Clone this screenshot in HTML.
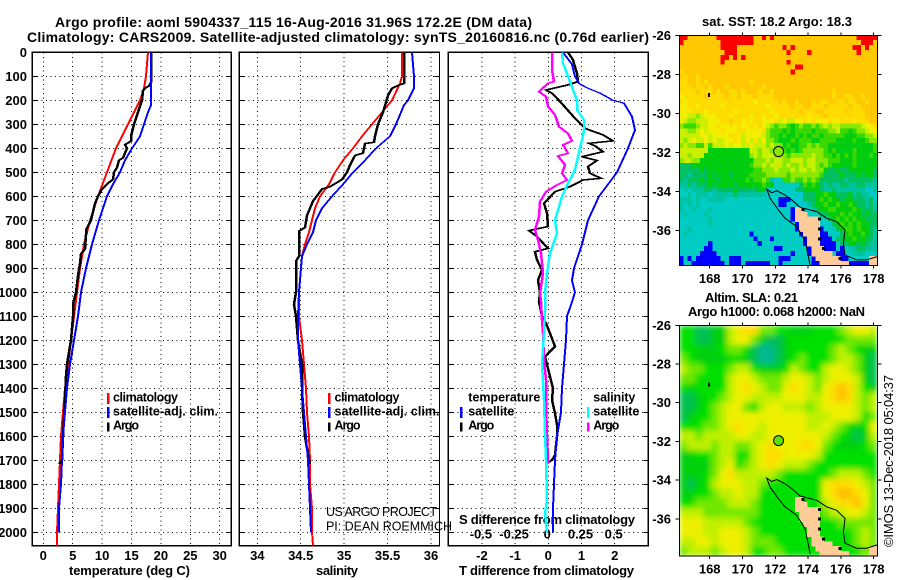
<!DOCTYPE html>
<html><head><meta charset="utf-8"><title>Argo profile</title>
<style>
html,body{margin:0;padding:0;background:#fff}
svg{display:block}
text{font-family:"Liberation Sans",sans-serif;fill:#000}
.b{font-weight:bold;font-size:13px}
.l{font-weight:bold;font-size:12.5px}
</style></head>
<body>
<svg id="chart" xmlns="http://www.w3.org/2000/svg" width="900" height="580" viewBox="0 0 900 580">
<defs>
<filter id="smooth" x="0" y="0" width="1" height="1"><feGaussianBlur stdDeviation="3" edgeMode="duplicate"/></filter>
<clipPath id="clip-sst"><rect x="679.3" y="35.3" width="198" height="230.4"/></clipPath>
<clipPath id="clip-sla"><rect x="679.3" y="325.3" width="198" height="230.7"/></clipPath>
</defs>
<text class="b" x="55" y="27" style="font-size:14px" textLength="477">Argo profile: aoml 5904337_115 16-Aug-2016 31.96S 172.2E (DM data)</text>
<text class="b" x="27" y="42" style="font-size:14px" textLength="622">Climatology: CARS2009. Satellite-adjusted climatology: synTS_20160816.nc (0.76d earlier)</text>
<text class="b" x="69" y="575" textLength="121">temperature (deg C)</text>
<text class="b" x="316" y="575" textLength="42">salinity</text>
<text class="b" x="459" y="575" textLength="175">T difference from climatology</text>
<text class="b" x="459" y="524" textLength="176">S difference from climatology</text>
<text x="326" y="516" style="font-size:12.5px" textLength="111">US ARGO PROJECT</text>
<text x="326" y="530.5" style="font-size:12.5px" textLength="126">PI: DEAN ROEMMICH</text>
<text class="b" x="702" y="26" textLength="150">sat. SST: 18.2 Argo: 18.3</text>
<text class="b" x="705" y="302" textLength="93">Altim. SLA: 0.21</text>
<text class="b" x="688" y="316" textLength="177">Argo h1000: 0.068 h2000: NaN</text>
<text transform="translate(893,547) rotate(-90)" style="font-size:13px" textLength="172">©IMOS 13-Dec-2018 05:04:37</text>
</svg>
<script>
// ---- Profile data (depth in dbar) ----
const tempClimDepth=[0,100,150,200,300,400,500,600,700,800,900,1000,1100,1200,1300,1400,1500,1600,1700,1800,1900,2000,2056];
const tempClim=[17.75,17.47,17.2,16.45,14.46,12.36,10.8,9.25,7.94,6.97,6.24,5.73,5.2,4.71,4.25,3.74,3.35,3.06,2.84,2.62,2.5,2.38,2.28];
const tempSatDepth=[0,100,220,250,300,350,400,450,500,550,600,700,800,900,1000,1100,1200,1300,1400,1500,1600,1700,1800,1900,2000];
const tempSat=[18.26,18.26,18.26,17.86,17.18,16.45,15.03,13.9,13.04,11.86,10.89,9.52,8.33,7.26,6.46,5.9,5.22,4.54,3.98,3.69,3.4,3.13,2.96,2.72,2.62];
const tempArgoDepth=[0,125,140,150,160,200,250,300,350,370,385,400,440,450,480,500,530,545,570,600,630,700,740,760,820,840,880,930,1000,1050,1100,1150,1200,1300,1350,1450,1600,1700,1715];
const tempArgo=[18.3,18.26,17.9,17.3,17.0,16.73,16.05,15.43,14.9,14.85,13.9,14.18,13.6,12.93,12.48,12.02,11.9,11.05,9.93,9.35,8.79,8.06,7.26,7.26,7.09,6.41,6.3,5.95,5.56,5.1,5.0,4.83,4.66,4.08,3.81,3.69,3.35,3.13,2.72];

const salClimDepth=[0,100,130,200,250,300,350,400,450,500,550,600,650,700,750,800,850,900,1000,1100,1200,1300,1400,1500,1600,1700,1800,1900,2000,2056];
const salClim=[35.67,35.67,35.64,35.55,35.44,35.32,35.2,35.1,34.99,34.89,34.82,34.72,34.66,34.63,34.59,34.55,34.52,34.5,34.48,34.48,34.51,34.54,34.56,34.57,34.59,34.61,34.61,34.63,34.63,34.64];
const salSatDepth=[0,50,100,150,200,220,250,300,350,400,450,500,550,600,650,700,750,800,850,900,1000,1100,1200,1300,1400,1500,1600,1700,1800,1900,2000];
const salSat=[35.78,35.79,35.81,35.81,35.74,35.69,35.66,35.6,35.53,35.37,35.24,35.1,34.99,34.86,34.74,34.68,34.64,34.57,34.52,34.5,34.48,34.47,34.47,34.49,34.52,34.54,34.56,34.58,34.6,34.61,34.62];
const salArgoDepth=[0,130,135,150,180,250,300,350,375,380,420,430,470,500,530,560,570,620,680,730,745,850,870,1000,1050,1100,1200,1300,1400,1500,1600,1700,1715];
const salArgo=[35.69,35.69,35.64,35.55,35.51,35.45,35.39,35.36,35.34,35.24,35.22,35.12,35.07,35.03,34.98,34.84,34.74,34.64,34.57,34.55,34.48,34.48,34.45,34.44,34.42,34.45,34.47,34.51,34.51,34.53,34.55,34.6,34.61];

const dTSatDepth=[0,50,100,130,150,170,200,212,268,324,400,500,600,700,800,900,950,1000,1040,1100,1200,1300,1400,1500,1600,1700,1800,1900,2000];
const dTSat=[0.45,0.7,0.8,0.93,1.2,1.56,1.96,2.28,2.51,2.61,2.41,2.06,1.54,1.2,1.03,0.78,0.72,0.8,0.72,0.57,0.53,0.47,0.42,0.37,0.27,0.2,0.16,0.13,0.13];
const dTArgoDepth=[0,32,88,122,136,157,171,205,233,275,317,344,369,379,390,414,435,451,476,504,525,532,560,581,629,671,726,743,768,817,831,865,907,949,1000,1039,1100,1129,1171,1226,1268,1351,1400,1449,1504,1553,1601,1678,1699,1712];
const dTArgo=[0.6,0.73,0.85,0.9,0.6,-0.07,0.1,0.35,0.53,0.8,1.1,1.66,1.96,1.22,1.4,1.66,1.03,1.46,1.2,1.25,1.58,1.05,0.65,0.2,-0.12,-0.05,0,-0.58,-0.35,0,-0.4,-0.35,-0.2,-0.3,-0.25,-0.28,-0.2,-0.07,0.05,0.2,-0.1,0.05,0.13,0.1,0.2,0.25,0.25,0.2,0.1,-0.05];
const dSSatDepth=[0,46,88,157,199,240,282,324,365,435,490,546,601,699,754,837,921,1000,1074,1171,1296,1449,1588,1699,1865,1921,2000];
const dSSat=[0.1,0.108,0.138,0.188,0.213,0.218,0.269,0.269,0.251,0.226,0.201,0.151,0.1,0.05,0.063,0.013,-0.013,-0.025,-0.025,-0.033,-0.045,-0.033,-0.025,-0.018,-0.013,-0.025,-0.008];
const dSArgoDepth=[0,74,122,129,164,185,226,261,310,338,369,386,421,432,469,504,532,553,581,622,685,740,782,837,921,1004,1039,1115,1171,1282,1365,1476,1712];
const dSArgo=[0.025,0.025,0.043,0,-0.07,-0.018,0,0.05,0.083,0.15,0.18,0.108,0.15,0.075,0.125,0.1,0.143,0.063,-0.018,-0.063,-0.068,-0.1,-0.075,-0.055,-0.043,-0.063,-0.055,-0.05,-0.043,-0.033,-0.018,-0.018,0];

// ---- Tick labels ----
const depthTicks=[0,100,200,300,400,500,600,700,800,900,1000,1100,1200,1300,1400,1500,1600,1700,1800,1900,2000];
const tempTicks=[0,5,10,15,20,25,30];
const salTicks=[34,34.5,35,35.5,36];
const salTickLabels=['34','34.5','35','35.5','36'];
const dTTicks=[-2,-1,0,1,2];
const dSTicks=[-0.5,-0.25,0,0.25,0.5];
const lonTicks=[168,170,172,174,176,178];
const latTicks=[-26,-28,-30,-32,-34,-36];

// ---- Map data: SST colour class per 0.25 degree cell (rows north to south) ----
const sstRows=[
"RRaaaaaaaRRRRRRRRRaaRaRaaaaaaaaaaaaaaaaaaaaRRRRR",
"RaaaaaaaaaRRRRRRRRaaaaaaaaaaaaaaaaaaaaaaaaaaRRRa",
"aaaaaaaaaaRRRRaaaaaaaaaaaRaRaaaaaaaaaaaaaaRRaRaa",
"aaaaaaaaaaaRRRaaaaaaaaaaaaRaaaaRaaaaaaaaaaaRaaaa",
"aaaaaaaaaaRRaRaRaaaaaaaaaaaaaaaaaaaaaaaaaaaaaaaa",
"aaaaaaaaaaRaaaaaaaaaaaaaaaRaaaaaaaaaaaaaaaaaaaaa",
"aaaaaaaaaaaaaaaaaaaaaaaaaaaaRRaaaaaaaaaaaaaaaaaa",
"baaaaaaaaaaaaaaaaaaaaaaaaaaRaaaaaaaaaaaaaaaaaaaa",
"abaabaaaaaaaaaaaaaaaaaaaaaaaaaaaaaaaaaaaaaaaaaaa",
"bbaababaaaaaaaaaabaaaaaaaaaaaaaaaaaaaaaaaaaaaaaa",
"bbbabbabaaabaaaaaaaabaaaaaaaaaaaaaaaaaaaaaaaaaaa",
"bbbbabbbabaabbabaaabaabaaaaaaaaaaaaaabaaaaaaaaaa",
"cbbbbbabbbbabbabbbabbbbaaaaaaaaaaaaaabaabbaabaaa",
"bcbbbbbbbbbbbbbbbbcbbbbbabaabaaababbaabbabbaabaa",
"ccbbcbbbbbcbbbbbbbbbbcbbbbbabbaabbbabbbbbabbaaaa",
"cccbbbcbbbbbbcbbbbbbbbcbbbbbbabbbaabbbbbabbbbaaa",
"ccddedcccbbbcbbbbcbbcbbcbbbbbbbcbbbabbbbbbbbbaaa",
"cdeedddcccbbabbcbcbbcccbdcddccbcbcccbccbbbcbbbaa",
"efffe ddcc bccbcbccbcbc defeefgfeffefede dd eeeee dccb",
"ddeed cdcc cbcccbbccccb efffgfgffffgfffe ed ffgfe edcc",
"ddddd ccdc cccbbcdccccd effgfggfgfgffgff ff fgggf feed",
"dedcd dcdc ddccbcdcdcdc eefgggfgfffggfff fg gggfg gfee",
"edeef fdfd ddcdccddcddd edeegfggffefeffg gg ggggg gggf",
"ddddd ddgg ggggggggdded deeefgfgfeeeeefg fg gggfg gggf",
"ddedd dggg ggggggggeded ddeeefeeeeedeeff gf gfgfg ggfg",
"eddee gggg gggggggggeee deddeedddeddeeef ff gggfg gggg",
"hhhgg gggg ggggggggfeed edddedeededdefef gg gggfg gggg",
"hhhhh ghgg gggggggggffe eedeeededdedeegh hg hhggg gggh",
"hhihh hhgh ggghggggffff eeeeefeeeeeeefhh hh ghhhg hggh",
"hihhh ghgg hggggggfgffe fijjffeffefefhhh hh hihhh hhhi",
"iihih hhgh gggghggggggf ggjjjjjjhfgfghih ii hhiih hiii",
"jijii ihhi hhhhghhhhhgg jjjjjjjhhgggghii hi iiiii ijji",
"jjiji iiji iiiihiiiiiii jjjjjkjkkhhhggfg gh hhgih iijj",
"iiiji jjii iijjjjjjjjjj jjjBBBkkjhhhgfgf gg hgghh hihj",
"ijiji jjjj jjjjjjjjjjjj jjjBBkkkkjihggfg gf ggfgh hihi",
"ijjij jjij jjjjjjjjjjjj jjjjjjBLLjjihggf fg gggfg hhhi",
"jijjj jijj jjjjjjjjjjjj jjjjjjBLLLjjjhhg gg fgfgg hghh",
"jjjjj jjij jjjjjjjjjjjj jjjjjjBLLLLLLjjh gf gfgfg ghhh",
"jjjjj jjij jjjjjjjjjjjj jjjjjjjBLLLLLjjj hg fgfgf gghh",
"jjijj jjjj jjjjjjjjjjjj jjjjjjjBLLLLLBjj jh gffgf gghi",
"jijjj jjjj jjjjjjjjBjjj jjjjjjjjBLLLLBBj jj hgfgg fghi",
"jjjjj jjjj jjjjjjjjjBjj jBjjjjjjjBLLLBBB jh hggfg ghhi",
"jjjjj jjBj jjjjjjjjjjBj jjjjjjjjjBLLLBBB Bj hhggh ghii",
"jjjjj jBBj jjjjjjjjjjjj jjBBjjjjjjBLLLBB Bj Bjiih hiii",
"jjjjj BBBB jjjjjjjjjjjj jjjjjjBjjjBLLLLL jB Bjjii ijjj",
"BjBjB BBBB BjjBBBjjjjjj jjjBBBjjjjjBLLLL LL BBjjj jjLL",
"BjjBB BBBB BBjBBBjBBBBB BjjBjjjjjjjBBLLL LL LLBBB BBLL"
];
const sstClasses={R:'#ff0000',a:'#ffc800',b:'#ffdc00',c:'#f4ee00',d:'#c8f000',e:'#88e800',f:'#38d800',g:'#00cc10',h:'#00c060',i:'#00c4a0',j:'#00ccc4',k:'#00ccd0',B:'#0000ff',L:'#ffcc99'};

// ---- Map data: altimetry SLA level per 0.5 degree cell (rows north to south) ----
const slaRows=[
"3311225677 4433 2223 3345665",
"3311225664 2112 3333 3334444",
"3322234431 0012 3333 3454322",
"4322223321 0012 3433 3455421",
"5443334553 2223 5433 5665421",
"4433335665 4445 6654 5666521",
"3233335676 5446 7654 6787532",
"1123345665 5556 6655 6787545",
"1123456643 5665 5545 6666545",
"1233456666 6666 6655 5666534",
"3334456766 5666 6655 6543236",
"5545555665 5666 6666 5432125",
"4555455445 6766 6776 4322234",
"2233455335 6776 6665 3333333",
"2222456345 6765 5543 3333333",
"2223467555 5543 3333 3455543",
"2123566655 4333 3333 6777654",
"2233455655 3333 3333 6788764",
"3344445554 3333 3333 5677864",
"5554444444 3333 3333 4556654",
"6665555543 3333 3333 3344444",
"6665566654 3333 3333 3333454",
"5566566654 4433 3333 3333454",
"4555456653 3443 3333 3333344"
];
const slaLevels=['#00b890','#00c050','#00d010','#00e000','#70e800','#c0f000','#eef000','#ffdc00','#ffc000'];

// ---- Coast contours (lon, lat) ----
const coastLon=[174.12,174.02,173.81,173.3,172.59,172.19,171.68,171.48,171.78,172.09,172.59,173.0,173.51,174.52,175.13,175.74,176.25,176.15,176.25,176.96,177.57,178.22];
const coastLat=[-37.81,-37.35,-36.5,-35.81,-35.38,-34.96,-34.36,-33.9,-34.07,-33.97,-34.19,-34.44,-34.82,-35.04,-35.38,-35.56,-35.98,-36.67,-37.26,-37.52,-37.52,-37.35];
const floatLon=172.2, floatLat=-31.96;

// ---- Axis functions ----
const svg=document.getElementById('chart');
const NS='http://www.w3.org/2000/svg';
const yD=d=>52.3+d*0.24;
const xT=v=>43.3+v*5.88;
const xS=v=>257.3+(v-34)*86.85;
const xD=v=>548.3+v*33.2;
const xDS=v=>xD(v*4);
const xLon=v=>709.7+(v-168)*16.4;
const ySst=v=>35.3+(-26-v)*19.5;
const ySla=v=>325.3+(-26-v)*19.35;

function mk(tag,attrs,parent){
  const e=document.createElementNS(NS,tag);
  for(const k in attrs){e.setAttribute(k,attrs[k]);}
  (parent||svg).appendChild(e);
  return e;
}
function label(str,x,y,anchor,parent,cls){
  const e=mk('text',{x:x,y:y,'text-anchor':anchor,'class':cls||'b'},parent);
  e.textContent=str;
  return e;
}

// ---- Profile panels ----
const panels=[
 {id:'temperature',x0:32.3,x1:231.3,xs:xT,ticks:tempTicks},
 {id:'salinity',x0:239.3,x1:439.5,xs:xS,ticks:salTicks},
 {id:'difference',x0:448.3,x1:648.3,xs:xD,ticks:dTTicks}
];
const bottom=545.7;
panels.forEach(p=>{
  const g=mk('g',{'shape-rendering':'crispEdges'});
  
  
  depthTicks.forEach(d=>{
    const l=mk('line',{x1:p.x0,x2:p.x1,y1:yD(d),y2:yD(d),stroke:'#000','stroke-width':1,'stroke-dasharray':'1 3.5'},g);
    
    
    mk('line',{x1:p.x0,x2:p.x0+5,y1:yD(d),y2:yD(d),stroke:'#000'},g);
    mk('line',{x1:p.x1-5,x2:p.x1,y1:yD(d),y2:yD(d),stroke:'#000'},g);
  });
  p.ticks.forEach(t=>{
    const l=mk('line',{x1:p.xs(t),x2:p.xs(t),y1:52.3,y2:bottom,stroke:'#000','stroke-width':1,'stroke-dasharray':'1 3.5'},g);
    
    
  });
  const f=mk('rect',{x:p.x0,y:52.3,width:p.x1-p.x0,height:bottom-52.3,fill:'none',stroke:'#000','stroke-width':1.2},g);
  
  
});

depthTicks.forEach(d=>{
  const e=label(String(d),27,yD(d)+4.5,'end');
  
  
});
tempTicks.forEach(t=>{
  const e=label(String(t),xT(t),560,'middle');
  
  
});
salTicks.forEach((t,i)=>{
  const e=label(salTickLabels[i],xS(t),560,'middle');
  
  
});
dTTicks.forEach(t=>{
  const e=label(String(t),xD(t),560,'middle');
  
  
});
dSTicks.forEach(t=>{
  const e=label(String(t),xDS(t)-1,538.7,'middle');
  
  
});

// The original pen is wider than it is tall: two strokes 1 px apart reproduce that.
function profile(depths,vals,xf,color,w){
  const g=mk('g',{'shape-rendering':'crispEdges'});
  [-0.5,0.5].forEach(dx=>{
    const pts=depths.map((d,i)=>(Math.round(xf(vals[i]))+dx).toFixed(1)+','+yD(d).toFixed(1)).join(' ');
    mk('polyline',{points:pts,fill:'none',stroke:color,'stroke-width':w},g);
  });
  return g;
}
let s;
s=profile(tempClimDepth,tempClim,xT,'#ff0000',1);


s=profile(tempArgoDepth,tempArgo,xT,'#000000',1.5);


s=profile(tempSatDepth,tempSat,xT,'#0000ff',1);


s=profile(salClimDepth,salClim,xS,'#ff0000',1);


s=profile(salArgoDepth,salArgo,xS,'#000000',1.5);


s=profile(salSatDepth,salSat,xS,'#0000ff',1);


s=profile(dTArgoDepth,dTArgo,xD,'#000000',1.5);


s=profile(dTSatDepth,dTSat,xD,'#0000ff',1);


s=profile(dSArgoDepth,dSArgo,xDS,'#ff00ff',1.5);


s=profile(dSSatDepth,dSSat,xDS,'#00ffff',1.5);



// ---- Legends ----
const legendItems=[
 [108,113,'climatology','#ff0000',401.7,393,404,65],
 [108,113,'satellite-adj. clim.','#0000ff',415.7,407,418,105],
 [108,113,'Argo','#000000',429.7,422.5,431.5,26],
 [329,334.5,'climatology','#ff0000',401.7,393,404,65],
 [329,334.5,'satellite-adj. clim.','#0000ff',415.7,407,418,105],
 [329,334.5,'Argo','#000000',429.7,422.5,431.5,26],
 [461,468.3,'satellite','#0000ff',415.7,407,418,46],
 [461,468.3,'Argo','#000000',429.7,422.5,431.5,26],
 [588,593.3,'satellite','#00ffff',415.7,407,418,46],
 [588,593.3,'Argo','#ff00ff',429.7,422.5,431.5,26]
];
legendItems.forEach(it=>{
  const b=mk('rect',{x:it[0]-1,y:it[5],width:2.4,height:it[6]-it[5],fill:it[3],'shape-rendering':'crispEdges'});
  
  
  const t=label(it[2],it[1],it[4],'start',svg,'l');
  t.setAttribute('textLength',it[7]);
  
  
});
const lh1=label('temperature',468.3,401.7,'start',svg,'l');
lh1.setAttribute('textLength',72);


const lh2=label('salinity',593.3,401.7,'start',svg,'l');
lh2.setAttribute('textLength',42);



// ---- Maps ----
const mapX0=679.3,mapW=198;
const clean=sstRows.map(r=>r.replace(/ /g,''));
const sstCols=48;

function drawAxes(yf,top,bot,nameBase){
  const g=mk('g',{'shape-rendering':'crispEdges'});
  
  
  mk('rect',{x:mapX0,y:top,width:mapW,height:bot-top,fill:'none',stroke:'#000','stroke-width':1},g);
  lonTicks.forEach(l=>{
    const x=xLon(l);
    mk('line',{x1:x,x2:x,y1:top-3,y2:top,stroke:'#000'},g);
    mk('line',{x1:x,x2:x,y1:bot,y2:bot+3,stroke:'#000'},g);
    const t=label(String(l),x,bot+17.5,'middle');
    
    
  });
  latTicks.forEach(l=>{
    const y=yf(l);
    mk('line',{x1:mapX0-4,x2:mapX0,y1:y,y2:y,stroke:'#000'},g);
    mk('line',{x1:mapX0+mapW,x2:mapX0+mapW+4,y1:y,y2:y,stroke:'#000'},g);
    const t=label(String(l),671,y+4.5,'end');
    
    
  });
}
function drawLand(parent,top,h){
  const ch=h/clean.length, cw=mapW/sstCols;
  clean.forEach((row,r)=>{
    for(let c=0;c<row.length;c++){
      if(row[c]!=='L')continue;
      mk('rect',{x:mapX0+c*cw,y:top+r*ch,width:cw+0.4,height:ch+0.4,fill:sstClasses.L},parent);
    }
  });
  clean.forEach((row,r)=>{
    for(let c=0;c<row.length;c++){
      if(row[c]==='L'&&row[c+1]!=='L'&&c<47&&r<46&&r%2===1){
        mk('rect',{x:mapX0+(c+1)*cw-1.5,y:top+r*ch+1,width:3,height:3,fill:'#000'},parent);
      }
    }
  });
}
function drawOverlays(parent,yf,fillColor,nameBase){
  const pts=coastLon.map((l,i)=>xLon(l).toFixed(1)+','+yf(coastLat[i]).toFixed(1)).join(' ');
  const c=mk('polyline',{points:pts,fill:'none',stroke:'#000','stroke-width':1},parent);
  
  
  const n=mk('rect',{x:xLon(167.96)-1,y:yf(-29.06)-2,width:2,height:4,fill:'#000'},parent);
  
  
  const f=mk('circle',{cx:xLon(floatLon),cy:yf(floatLat),r:5,fill:fillColor,stroke:'#000','stroke-width':1},parent);
  
  
}

// SST map
const sstG=mk('g',{'clip-path':'url(#clip-sst)','shape-rendering':'crispEdges'});


const sstH=230.4, sstCH=sstH/clean.length, sstCW=mapW/sstCols;
clean.forEach((row,r)=>{
  for(let c=0;c<sstCols;c++){
    const k=row[c]||row[row.length-1];
    const cell=mk('rect',{x:mapX0+c*sstCW,y:35.3+r*sstCH,width:sstCW+0.4,height:sstCH+0.4,fill:sstClasses[k]},sstG);
    
    
  }
});
const sstL=mk('g',{'clip-path':'url(#clip-sst)','shape-rendering':'crispEdges'});


drawLand(sstL,35.3,sstH);
const sstO=mk('g',{'clip-path':'url(#clip-sst)'});


drawOverlays(sstO,ySst,'#88e800','sst');
drawAxes(ySst,35.3,265.7,'sst');

// Altimetry map
const slaClip=mk('g',{'clip-path':'url(#clip-sla)'});


const slaG=mk('g',{filter:'url(#smooth)'},slaClip);
const slaClean=slaRows.map(r=>r.replace(/ /g,''));
const slaCH=230.7/slaClean.length, slaCW=mapW/slaClean[0].length;
slaClean.forEach((row,r)=>{
  for(let c=0;c<row.length;c++){
    const cell=mk('rect',{x:mapX0+c*slaCW,y:325.3+r*slaCH,width:slaCW+0.4,height:slaCH+0.4,fill:slaLevels[+row[c]],'shape-rendering':'crispEdges'},slaG);
    
    
  }
});
const slaL=mk('g',{'clip-path':'url(#clip-sla)','shape-rendering':'crispEdges'});


drawLand(slaL,325.3,230.7);
const slaO=mk('g',{'clip-path':'url(#clip-sla)'});


drawOverlays(slaO,ySla,'#60e000','altimetry');
drawAxes(ySla,325.3,556,'altimetry');
</script>
</body></html>
